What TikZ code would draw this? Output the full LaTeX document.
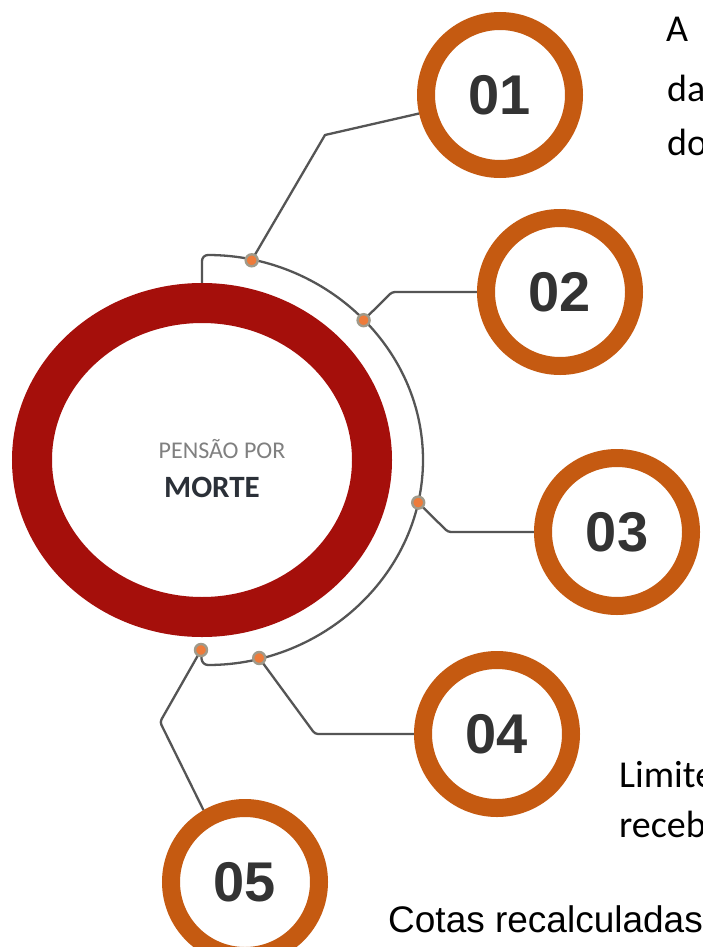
\documentclass[tikz,border=0pt]{standalone}
\usepackage{fontspec}
\setmainfont{Carlito}
\newfontfamily\arialf{Liberation Sans}
\definecolor{ringred}{HTML}{A50F0B}
\definecolor{ringorange}{HTML}{C55A11}
\definecolor{numgray}{HTML}{333333}
\definecolor{conngray}{HTML}{555555}
\definecolor{dotfill}{HTML}{EE7B3A}
\definecolor{dotedge}{HTML}{A09A8A}
\definecolor{pgray}{HTML}{808080}
\definecolor{mdark}{HTML}{2B3038}
\pgfdeclarelayer{bg}
\pgfdeclarelayer{paper}
\pgfsetlayers{paper,bg,main}
\begin{document}
\begin{tikzpicture}[x=1pt,y=-1pt,
  numc/.style={circle, draw=ringorange, line width=18pt, fill=white, minimum size=148pt, inner sep=0pt, text=numgray, font=\arialf\bfseries\fontsize{56}{56}\selectfont},
  dotn/.style={circle, fill=dotfill, draw=dotedge, line width=2.4pt, inner sep=0pt, minimum size=12pt},
  conn/.style={draw=conngray, line width=2.3pt, line join=round},
  sidetext/.style={anchor=base west, inner sep=0pt, font=\fontsize{38}{38}\selectfont, text=black}
]
\useasboundingbox (0,0) rectangle (702,947);
\clip (0,0) rectangle (702,947);
\begin{pgfonlayer}{paper}
\fill[white] (0,0) rectangle (702,947);
\end{pgfonlayer}

% central ring
\draw[line width=40pt, draw=ringred] (202,460) ellipse [x radius=170, y radius=157];
\node[anchor=base, inner sep=0pt, text=pgray, font=\fontsize{24}{24}\selectfont] (t1) at (222,458) {PENSÃO POR};
\node[anchor=base, inner sep=0pt, text=mdark, font=\bfseries\fontsize{31}{31}\selectfont] (t2) at (212,497) {MORTE};

% numbered circles
\node[numc] (c1) at (500,95) {01};
\node[numc] (c2) at (560,292) {02};
\node[numc] (c3) at (617,532) {03};
\node[numc] (c4) at (497,734) {04};
\node[numc] (c5) at (245,882) {05};

% dots on the arc
\node[dotn] (d1) at (251.7,260.3) {};
\node[dotn] (d2) at (363.6,320.2) {};
\node[dotn] (d3) at (418.2,502.6) {};
\node[dotn] (d4) at (259.2,658.0) {};
\node[dotn] (d5) at (201,650) {};

\coordinate (k1) at (325,135);
\coordinate (k2) at (392,292);
\coordinate (k3) at (448,532);
\coordinate (k4) at (315,734);
\coordinate (k5) at (160,722);
\coordinate (top) at (202,255);
\coordinate (ringtop) at (202,284);

\begin{pgfonlayer}{bg}
\draw[conn, rounded corners=6pt] (ringtop) -- (top) arc[start angle=-90, end angle=90, x radius=221, y radius=205] -- (d5.center);
\draw[conn] (d1.center) -- (k1) -- (c1);
\draw[conn, rounded corners=3pt] (d2.center) -- (k2) -- (c2);
\draw[conn, rounded corners=3pt] (d3.center) -- (k3) -- (c3);
\draw[conn, rounded corners=3pt] (d4.center) -- (k4) -- (c4);
\draw[conn, rounded corners=3pt] (d5.center) -- (k5) -- (c5.120);
\end{pgfonlayer}

% side texts
\node[sidetext] (a1) at (666,42) {A};
\node[sidetext] (a2) at (667,102) {da};
\node[sidetext] (a3) at (667,155) {do};
\node[sidetext] (b1) at (619,787) {Limite};
\node[sidetext] (b2) at (619,837) {receb};
\node[sidetext, font=\arialf\fontsize{37}{37}\selectfont] (b3) at (388,932) {Cotas recalculadas};
\end{tikzpicture}
\end{document}
